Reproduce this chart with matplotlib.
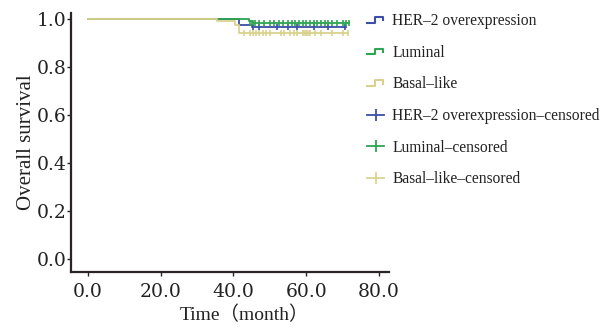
import matplotlib
matplotlib.use("Agg")
import matplotlib.pyplot as plt
from matplotlib.lines import Line2D

# survival curves (step, post)
her_t = [0, 41.6, 45.0, 71.0]
her_s = [1.0, 0.973, 0.966, 0.966]
lum_t = [0, 44.4, 45.5, 71.8]
lum_s = [1.0, 0.99, 0.983, 0.983]
bas_t = [0, 35.6, 40.3, 41.6, 71.5]
bas_s = [1.0, 0.99, 0.973, 0.942, 0.942]

# censored times
her_c = [45.5, 47.0, 52.0, 55.0, 57.5, 62.0, 66.0, 70.5]
lum_c = [44.6, 45.2, 46.0, 47.0, 48.5, 50.0, 51.0, 52.5, 53.5, 55.0, 56.0, 57.0,
         58.0, 59.0, 60.0, 61.0, 62.0, 63.0, 64.0, 65.0, 66.0, 67.0, 68.5, 70.0, 71.0, 71.8]
bas_c = [43.0, 44.5, 45.5, 46.2, 47.0, 48.0, 49.0, 50.0, 53.0, 54.0, 55.5, 56.5,
         57.5, 59.0, 59.5, 60.0, 60.5, 61.0, 62.5, 64.0, 67.0, 70.0, 71.5]

labels = ["HER–2 overexpression", "Luminal", "Basal–like",
          "HER–2 overexpression–censored", "Luminal–censored", "Basal–like–censored"]
xticks = [0, 20, 40, 60, 80]
yticks = [0.0, 0.2, 0.4, 0.6, 0.8, 1.0]

c_her = "#3a4fa6"
c_lum = "#2ea552"
c_bas = "#d9d28e"
fnt = ["Liberation Serif", "Noto Sans CJK SC"]
plt.rcParams["font.family"] = fnt


class StepHandler:
    def legend_artist(self, legend, orig_handle, fontsize, handlebox):
        w, h = handlebox.width, handlebox.height
        x0, y0 = -handlebox.xdescent, -handlebox.ydescent
        xs = [x0, x0 + 0.45 * w, x0 + 0.45 * w, x0 + 0.9 * w, x0 + 0.9 * w]
        ys = [y0 + 0.25 * h, y0 + 0.25 * h, y0 + 0.75 * h, y0 + 0.75 * h, y0 + 0.45 * h]
        ln = Line2D(xs, ys, color=orig_handle.get_color(), lw=1.5,
                    transform=handlebox.get_transform())
        handlebox.add_artist(ln)
        return ln


fig = plt.figure(figsize=(6.1, 3.3), dpi=100)
ax = fig.add_axes([0.1164, 0.1758, 0.5213, 0.785])

l1, = ax.step(her_t, her_s, where="post", color=c_her, lw=1.3)
l2, = ax.step(lum_t, lum_s, where="post", color=c_lum, lw=1.3)
l3, = ax.step(bas_t, bas_s, where="post", color=c_bas, lw=1.3)

ax.plot(bas_c, [bas_s[-1]] * len(bas_c), ls="none", marker="|", ms=4.5, mew=1.2, color=c_bas)
ax.plot(her_c, [her_s[-1]] * len(her_c), ls="none", marker="|", ms=4.5, mew=1.2, color=c_her)
ax.plot(lum_c, [lum_s[-1]] * len(lum_c), ls="none", marker="|", ms=4.5, mew=1.2, color=c_lum)

ax.set_xlim(-4.6, 82.7)
ax.set_ylim(-0.054, 1.025)
ax.set_xticks(xticks)
ax.set_xticklabels(["%.1f" % v for v in xticks], family="DejaVu Serif")
ax.set_yticks(yticks)
ax.set_yticklabels(["%.1f" % v for v in yticks], family="DejaVu Serif")
ax.tick_params(labelsize=13.5, direction="out", length=3, width=1, colors="#2a2424",
               labelcolor="#222222")
ax.tick_params(axis="y", pad=0.5)
ax.tick_params(axis="x", pad=5)
for s in ["top", "right"]:
    ax.spines[s].set_visible(False)
for s in ["left", "bottom"]:
    ax.spines[s].set_color("#2a2424")
    ax.spines[s].set_linewidth(1.6)

ax.set_xlabel("Time（month）", fontsize=14, color="#222222")
ax.xaxis.set_label_coords(0.544, -0.131)
ax.set_ylabel("Overall survival", fontsize=15, color="#222222", labelpad=0)

p4 = Line2D([], [], color=c_her, marker="|", ms=8, mew=1.3, lw=1.3)
p5 = Line2D([], [], color=c_lum, marker="|", ms=8, mew=1.3, lw=1.3)
p6 = Line2D([], [], color=c_bas, marker="|", ms=8, mew=1.3, lw=1.3)
leg = fig.legend([l1, l2, l3, p4, p5, p6], labels, loc="upper left",
                 bbox_to_anchor=(0.578, 1.002), frameon=False, fontsize=11.2,
                 handlelength=1.15, handletextpad=0.5, labelspacing=1.0,
                 numpoints=1, handler_map={l1: StepHandler(), l2: StepHandler(), l3: StepHandler()})
for t in leg.get_texts():
    t.set_color("#222222")

fig.savefig("out.png", dpi=100)
